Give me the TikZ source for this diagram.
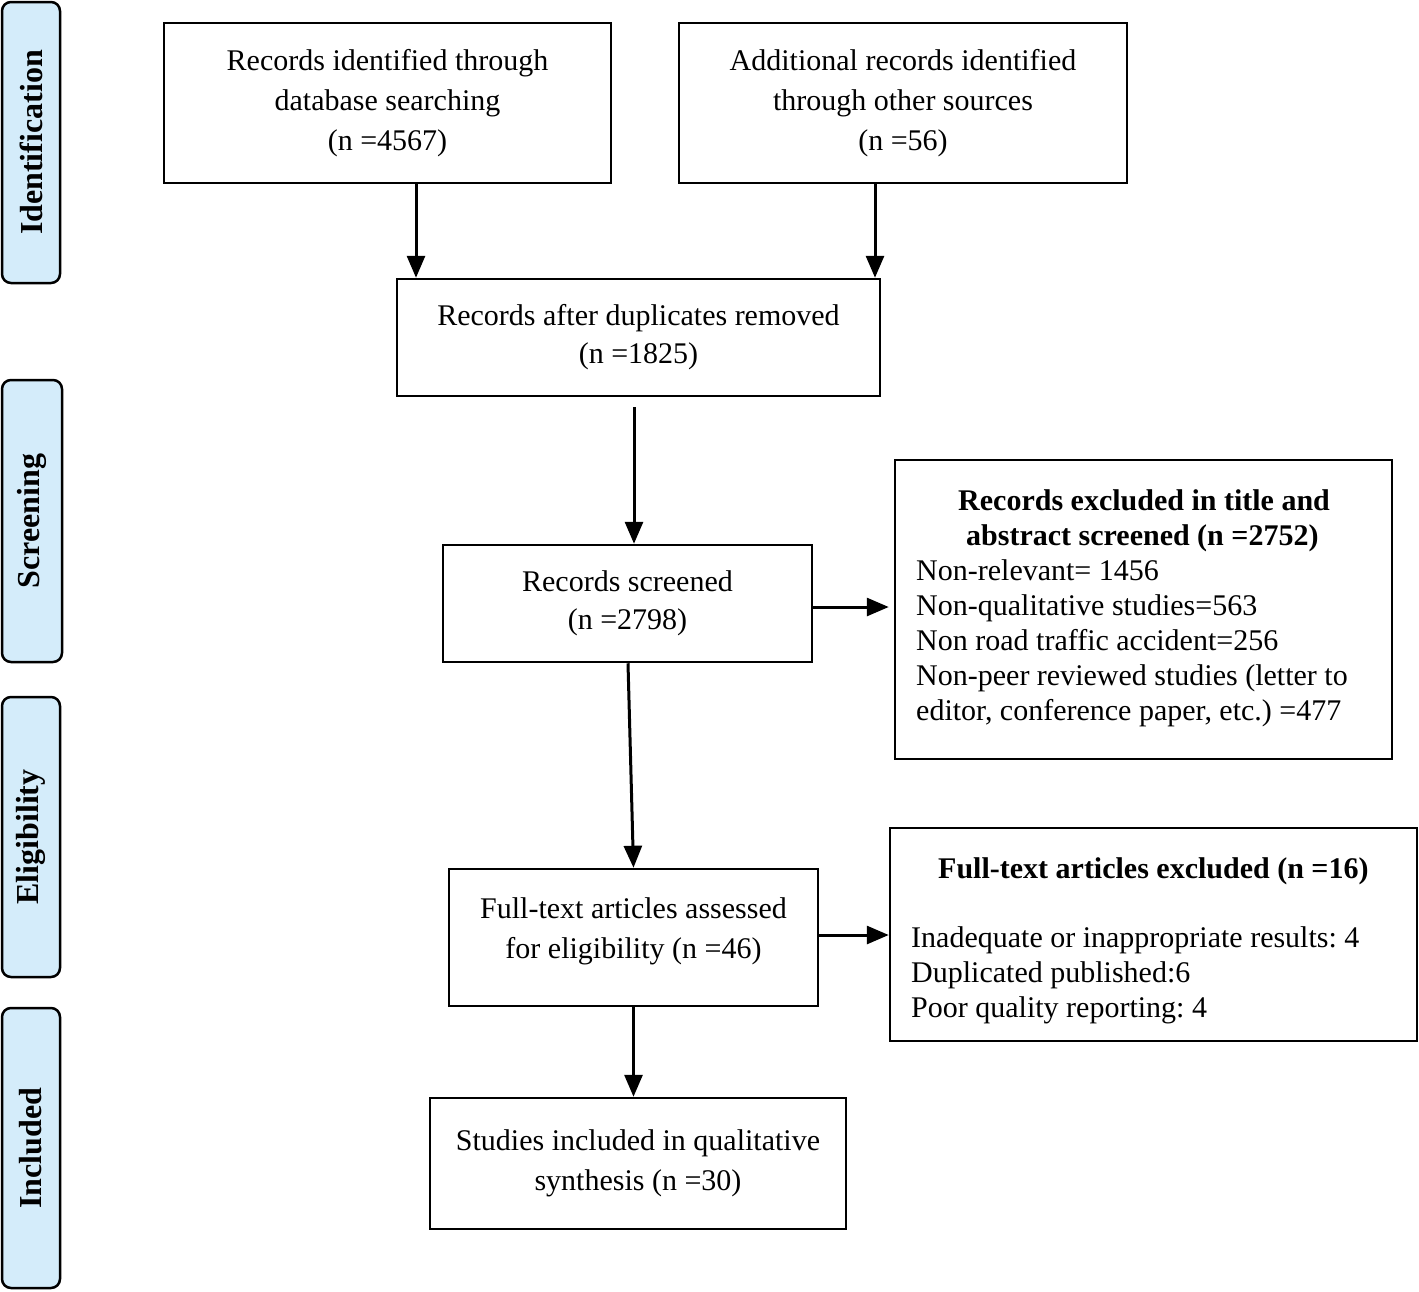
\documentclass[tikz,border=0pt]{standalone}
\usepackage{fontspec}
\setmainfont{Liberation Serif}
\usetikzlibrary{arrows.meta, calc}
\definecolor{phasefill}{RGB}{212,236,250}
\frenchspacing
\tikzset{
    box/.style={draw, line width=2.5pt, align=center, inner sep=0pt,
        font=\fontsize{30}{40}\selectfont},
    phase/.style={draw, line width=2.5pt, rounded corners=9pt, fill=phasefill,
        rotate=90, minimum height=58pt, inner sep=0pt,
        font=\fontsize{32}{36}\selectfont\bfseries},
    list/.style={align=left, inner sep=0pt, font=\fontsize{30}{35}\selectfont},
    arr/.style={-{Triangle[width=18pt,length=22pt]}, line width=3pt}
}
\begin{document}
\begin{tikzpicture}[x=1pt, y=-1pt]
    \useasboundingbox (0,0) rectangle (1419,1291);

    % phases on the left
    \node[phase, minimum width=281pt] (pid) at (31,142.5)  {Identification};
    \node[phase, minimum width=282pt, minimum height=60pt] (psc) at (32,521) {Screening};
    \node[phase, minimum width=280pt] (pel) at (31,837)    {Eligibility};
    \node[phase, minimum width=280pt] (pin) at (31,1148)   {Included};

    % main boxes
    \node[box, minimum width=447pt, minimum height=160pt] (db) at (387.5,103)
        {Records identified through\\database searching\\(n =4567)};
    \node[box, minimum width=448pt, minimum height=160pt] (other) at (903,103)
        {Additional records identified\\through other sources\\(n =56)};
    \node[box, minimum width=483pt, minimum height=117pt] (dup) at (638.5,337.5)
        {Records after duplicates removed\\[-2pt](n =1825)};
    \node[box, minimum width=369pt, minimum height=117pt] (scr) at (627.5,603.5)
        {Records screened\\[-2pt](n =2798)};
    \node[box, minimum width=369pt, minimum height=137pt, text depth=19pt] (full) at (633.5,937.5)
        {Full-text articles assessed\\for eligibility (n =46)};
    \node[box, minimum width=416pt, minimum height=131pt] (incl) at (638,1163.5)
        {Studies included in qualitative\\synthesis (n =30)};

    % exclusion boxes
    \node[box, minimum width=497pt, minimum height=299pt] (exscr) at (1143.5,609.5) {};
    \node[list, anchor=north west] (exscrtxt) at (916,489)
        {\hspace*{42pt}\textbf{Records excluded in title and}\\
         \hspace*{50pt}\textbf{abstract screened (n =2752)}\\
         Non-relevant= 1456\\
         Non-qualitative studies=563\\
         Non road traffic accident=256\\
         Non-peer reviewed studies (letter to\\
         editor, conference paper, etc.) =477};
    \node[box, minimum width=527pt, minimum height=213pt] (exfull) at (1153.5,934.5) {};
    \node[list, anchor=north west] (exfulltxt) at (911,857)
        {\hspace*{27pt}\textbf{Full-text articles excluded (n =16)}\\[34pt]
         Inadequate or inappropriate results: 4\\
         Duplicated published:6\\
         Poor quality reporting: 4};

    % connectors
    \coordinate (dbout) at ($(db.south)+(28.5,0)$);
    \coordinate (otherout) at ($(other.south)+(-28,0)$);
    \draw[arr] (dbout) -- (dbout |- dup.north);
    \draw[arr] (otherout) -- (otherout |- dup.north);
    \draw[arr] ($(dup.south)+(-4.5,10)$) -- ($(scr.north)+(6.5,0)$);
    \draw[arr] ($(scr.south)+(0.5,0)$) -- (full.north);
    \draw[arr] ($(scr.east)+(0,3.5)$) -- ($(scr.east -| exscr.west)+(-5,3.5)$);
    \draw[arr] ($(full.east)+(0,-2.5)$) -- ($(full.east -| exfull.west)+(0,-2.5)$);
    \draw[arr] (full.south) -- (full.south |- incl.north);
\end{tikzpicture}
\end{document}
